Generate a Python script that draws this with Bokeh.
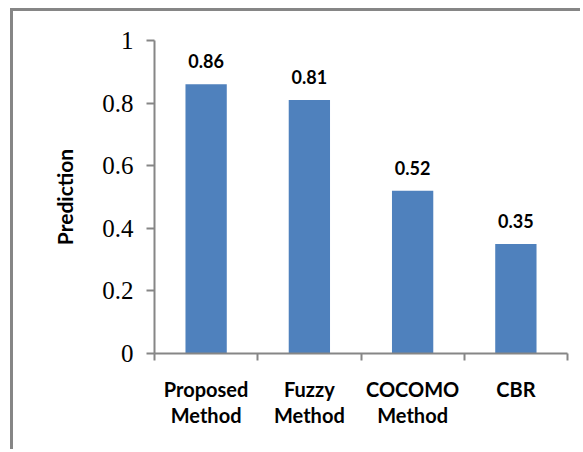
from bokeh.plotting import figure
from bokeh.models import Range1d, FixedTicker, ColumnDataSource
from bokeh.core.properties import value
from bokeh.embed import file_html
from bokeh.resources import INLINE

categories = ["Proposed\nMethod", "Fuzzy\nMethod", "COCOMO\nMethod", "CBR"]
predictions = [0.86, 0.81, 0.52, 0.35]
value_labels = ["0.86", "0.81", "0.52", "0.35"]
y_ticks = [0, 0.2, 0.4, 0.6, 0.8, 1]
y_tick_labels = ["0", "0.2", "0.4", "0.6", "0.8", "1"]

centers = [i + 0.5 for i in range(len(categories))]
bounds = [float(i) for i in range(len(categories) + 1)]

src = ColumnDataSource(dict(x=centers, y=predictions, lab=value_labels))

p = figure(width=570, height=441, output_backend="svg", toolbar_location=None,
           x_range=Range1d(0, len(categories)), y_range=Range1d(0, 1),
           min_border_left=141, min_border_right=16, min_border_top=29,
           min_border_bottom=99)
p.styles = {"border-left": "3px solid #868686", "border-top": "3px solid #868686",
            "margin-left": "10px", "margin-top": "8px"}
p.outline_line_color = None
p.grid.visible = False

p.vbar(x="x", top="y", width=0.4, source=src, fill_color="#4F81BD",
       line_color=None)
p.text(x="x", y="y", text="lab", source=src, y_offset=-16,
       text_align="center", text_baseline="bottom",
       text_font=value("Lato"), text_font_style="bold",
       text_font_size="18px", text_color="#000000")

xa = p.xaxis[0]
xa.ticker = FixedTicker(ticks=centers, minor_ticks=bounds)
xa.major_label_overrides = {c: lab for c, lab in zip(centers, categories)}
xa.major_tick_out = 0
xa.major_tick_in = 0
xa.minor_tick_out = 7
xa.minor_tick_in = 0
xa.minor_tick_line_color = "#868686"
xa.axis_line_color = "#868686"
xa.axis_line_width = 2
xa.minor_tick_line_width = 2
xa.major_label_standoff = 16
xa.major_label_text_font = "Lato"
xa.major_label_text_font_style = "bold"
xa.major_label_text_font_size = "20px"
xa.major_label_text_color = "#000000"
xa.major_label_text_line_height = 1.1

ya = p.yaxis[0]
ya.ticker = FixedTicker(ticks=y_ticks, minor_ticks=[])
ya.major_label_overrides = {t: l for t, l in zip(y_ticks, y_tick_labels)}
ya.major_tick_out = 8
ya.major_tick_in = 0
ya.major_tick_line_color = "#868686"
ya.major_tick_line_width = 2
ya.axis_line_color = "#868686"
ya.axis_line_width = 2
ya.major_label_standoff = 13
ya.major_label_text_font = "Liberation Serif"
ya.major_label_text_font_size = "25px"
ya.major_label_text_color = "#000000"
ya.axis_label = "Prediction"
ya.axis_label_text_font = "Lato"
ya.axis_label_text_font_style = "bold"
ya.axis_label_text_font_size = "21px"
ya.axis_label_text_color = "#000000"
ya.axis_label_standoff = 22

open("out.html", "w").write(file_html(p, INLINE))
